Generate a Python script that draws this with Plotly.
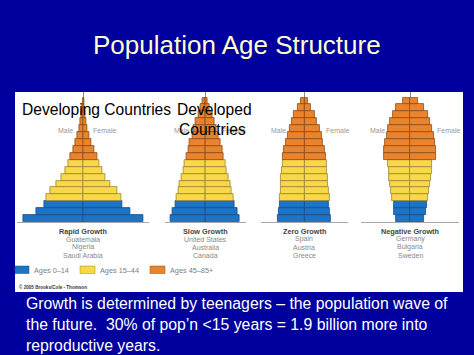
import plotly.graph_objects as go

# ---------------- data ----------------
age_groups = ["0-4", "5-9", "10-14", "15-19", "20-24", "25-29", "30-34", "35-39", "40-44",
              "45-49", "50-54", "55-59", "60-64", "65-69", "70-74", "75-79", "80-84", "85+"]
age_classes = ["Ages 0–14", "Ages 15–44", "Ages 45–85+"]
class_index = [0, 0, 0, 1, 1, 1, 1, 1, 1, 2, 2, 2, 2, 2, 2, 2, 2, 2]

# relative share of population in each age group (same scale for all pyramids)
rapid_growth = [60, 47, 39, 37.5, 33.5, 27, 22, 18.5, 15.5, 13.5, 10.5, 8, 6, 4, 2.6, 1.7, 1, 0.5]
slow_growth = [34.3, 32.3, 29.8, 28.7, 26.8, 25.3, 23.7, 21.8, 20.2, 18.3, 17, 15.3, 13, 11.3, 9.7, 7, 4.7, 2.5]
zero_growth = [26.7, 25.2, 24.2, 25, 24, 23.8, 23.3, 22.7, 22, 21.3, 20.5, 18.7, 17, 15, 12.8, 10.5, 6.7, 3.8]
negative_growth = [14.3, 15.7, 16.5, 17.7, 19, 20, 20.7, 21.5, 22.3, 25.8, 25.7, 24.7, 23.5, 22, 20.3, 17.5, 14.2, 7.5]

pyramid_titles = ["Rapid Growth", "Slow Growth", "Zero Growth", "Negative Growth"]
pyramid_countries = [["Guatemala", "Nigeria", "Saudi Arabia"],
                     ["United States", "Australia", "Canada"],
                     ["Spain", "Austria", "Greece"],
                     ["Germany", "Bulgaria", "Sweden"]]
pyramid_values = [rapid_growth, slow_growth, zero_growth, negative_growth]

title_text = "Population Age Structure"
caption_lines = ["Growth is determined by teenagers – the population wave of",
                 "the future.  30% of pop’n <15 years = 1.9 billion more into",
                 "reproductive years."]

# ---------------- style / layout ----------------
W, H = 474, 355
BG = "#00009e"
fill_colors = ["#1e74c4", "#f9d848", "#e9842c"]
line_colors = ["#1b4d86", "#9a8636", "#8c4c1c"]

centers = [83.3, 205.0, 304.3, 410.0]
half_spans = [66, 40.5, 43.5, 49]
label_dx = [(-18, 21), (-24, 28), (-26, 33), (-33, 38)]
base_y, top_y = 222, 92


def px(x):
    return x / W


def py(y):
    return 1 - y / H


fig = go.Figure()
layout_axes = {}
for i, vals in enumerate(pyramid_values):
    n = "" if i == 0 else str(i + 1)
    xa, ya = "x" + n, "y" + n
    for c in range(3):
        ys = [age_groups[k] for k in range(len(vals)) if class_index[k] == c]
        xs = [vals[k] for k in range(len(vals)) if class_index[k] == c]
        for sign, side in ((-1, "Male"), (1, "Female")):
            fig.add_trace(go.Bar(
                y=ys, x=[sign * v for v in xs], orientation="h",
                xaxis=xa, yaxis=ya, name=age_classes[c], showlegend=False,
                marker=dict(color=fill_colors[c], line=dict(color=line_colors[c], width=0.8)),
                hovertemplate=side + " %{y}: %{x}<extra></extra>"))
    cx, hw = centers[i], half_spans[i]
    layout_axes["xaxis" + n] = dict(
        domain=[px(cx - hw), px(cx + hw)], range=[-hw, hw], anchor=ya,
        showgrid=False, showticklabels=False, ticks="",
        zeroline=True, zerolinecolor="#8a8a8a", zerolinewidth=1,
        showline=True, linecolor="#a8a8a8", linewidth=1, fixedrange=True)
    layout_axes["yaxis" + n] = dict(
        domain=[py(base_y), py(top_y)], type="category",
        categoryorder="array", categoryarray=age_groups,
        range=[-0.5, 18.3], anchor=xa, visible=False, fixedrange=True)

fig.update_layout(**layout_axes)

annotations = []
# title
annotations.append(dict(text=title_text, x=0.5, y=py(45), xref="paper", yref="paper",
                        showarrow=False, font=dict(family="Liberation Sans, Arial", size=26, color="#ffffcc"),
                        xanchor="center", yanchor="middle"))
# pyramid labels
for i in range(4):
    cx = centers[i]
    annotations.append(dict(text="<b>" + pyramid_titles[i] + "</b>", x=px(cx), y=py(231),
                            xref="paper", yref="paper", showarrow=False,
                            font=dict(family="Liberation Sans, Arial", size=7.3, color="#444444"),
                            xanchor="center", yanchor="middle"))
    for j, cname in enumerate(pyramid_countries[i]):
        annotations.append(dict(text=cname, x=px(cx), y=py(239.2 + 8 * j),
                                xref="paper", yref="paper", showarrow=False,
                                font=dict(family="Liberation Sans, Arial", size=7, color="#888888"),
                                xanchor="center", yanchor="middle"))
    mdx, fdx = label_dx[i]
    for lab, dx in (("Male", mdx), ("Female", fdx)):
        annotations.append(dict(text=lab, x=px(cx + dx), y=py(130.7),
                                xref="paper", yref="paper", showarrow=False,
                                font=dict(family="Liberation Sans, Arial", size=7, color="#999999"),
                                xanchor="center", yanchor="middle"))

# legend (manual)
shapes = [dict(type="rect", xref="paper", yref="paper", x0=px(15), x1=px(463),
               y0=py(292), y1=py(92), fillcolor="white", line=dict(width=0), layer="below")]
legend_x = [(15, 29, 32), (80, 95, 98), (150, 165, 168)]
for c, (x0, x1, tx) in enumerate(legend_x):
    shapes.append(dict(type="rect", xref="paper", yref="paper", x0=px(x0), x1=px(x1),
                       y0=py(273.5), y1=py(266), fillcolor=fill_colors[c],
                       line=dict(color=line_colors[c], width=0.5), layer="above"))
    annotations.append(dict(text=age_classes[c], x=px(tx), y=py(270), xref="paper", yref="paper",
                            showarrow=False, font=dict(family="Liberation Sans, Arial", size=7.3, color="#808080"),
                            xanchor="left", yanchor="middle"))

annotations.append(dict(text="<b>© 2005 Brooks/Cole - Thomson</b>", x=px(16.5), y=py(287),
                        xref="paper", yref="paper", showarrow=False,
                        font=dict(family="Liberation Sans, Arial", size=4.6, color="#333333"),
                        xanchor="left", yanchor="middle"))

# overlay black labels
for text, x, y in (("Developing Countries", 19.5, 109), ("Developed", 175, 109), ("Countries", 177, 129)):
    annotations.append(dict(text=text, x=px(x), y=py(y), xref="paper", yref="paper", showarrow=False,
                            font=dict(family="Liberation Sans, Arial", size=15.6, color="black"),
                            xanchor="left", yanchor="middle"))

# caption
for k, line in enumerate(caption_lines):
    annotations.append(dict(text=line, x=px(24), y=py(303 + 21 * k), xref="paper", yref="paper",
                            showarrow=False, font=dict(family="Liberation Sans, Arial", size=15.8, color="white"),
                            xanchor="left", yanchor="middle"))

fig.update_layout(
    width=W, height=H, margin=dict(l=0, r=0, t=0, b=0),
    paper_bgcolor=BG, plot_bgcolor="rgba(0,0,0,0)",
    barmode="overlay", bargap=0, showlegend=False,
    annotations=annotations, shapes=shapes)

fig.write_html("out.html", config={"displayModeBar": False},
               post_script="document.body.style.margin='0';document.body.style.padding='0';"
                           "document.body.style.overflow='hidden';")
